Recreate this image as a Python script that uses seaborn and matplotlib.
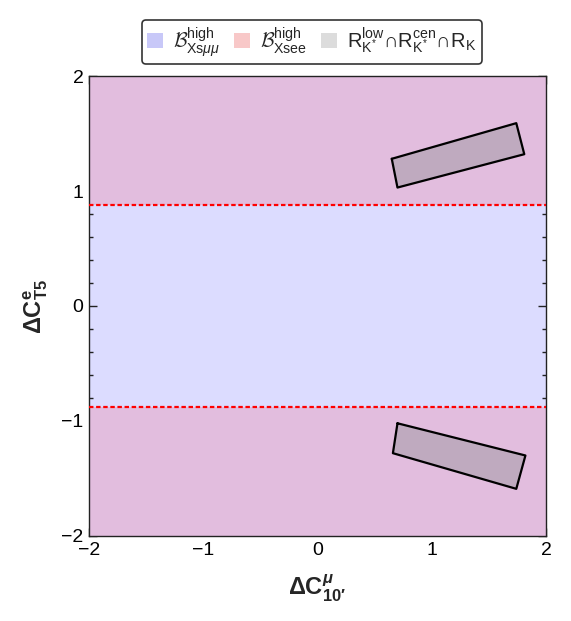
import numpy as np
import pandas as pd
import matplotlib
matplotlib.use("Agg")
import matplotlib.pyplot as plt
from matplotlib.patches import Patch
from matplotlib.ticker import MultipleLocator
import seaborn as sns

# ---- data ----
x_limits = [-2, 2]
y_limits = [-2, 2]
xsee_bound = 0.88          # |dC_T5^e| above which B_Xsee is allowed
upper_box_x = [0.65, 1.74, 1.81, 0.70]
upper_box_y = [1.28, 1.59, 1.32, 1.03]
lower_box_x = [0.70, 1.82, 1.74, 0.66]
lower_box_y = [-1.02, -1.30, -1.59, -1.28]
legend_labels = [r"$\mathcal{B}^{\mathrm{high}}_{\mathrm{Xs}\mu\mu}$",
                 r"$\mathcal{B}^{\mathrm{high}}_{\mathrm{Xsee}}$",
                 r"$\mathrm{R}^{\mathrm{low}}_{\mathrm{K^{*}}}{\cap}\mathrm{R}^{\mathrm{cen}}_{\mathrm{K^{*}}}{\cap}\mathrm{R}_{\mathrm{K}}$"]
xticks = [-2, -1, 0, 1, 2]
yticks = [-2, -1, 0, 1, 2]

sns.set_style("ticks")
plt.rcParams["font.family"] = ["Liberation Sans", "DejaVu Sans"]
plt.rcParams["mathtext.fontset"] = "custom"
plt.rcParams["mathtext.rm"] = "Liberation Sans"
plt.rcParams["mathtext.it"] = "Liberation Sans:italic"
plt.rcParams["mathtext.bf"] = "Liberation Sans:bold"
plt.rcParams["mathtext.bfit"] = "Liberation Sans:italic:bold"
plt.rcParams["mathtext.cal"] = "cmsy10"
plt.rcParams["mathtext.fallback"] = "stix"

fig = plt.figure(figsize=(5.71, 6.21), dpi=100)
ax = fig.add_axes([0.1559, 0.1369, 0.8003, 0.7407])

blue_c = "#dcdcff"
purple_c = "#e2bdde"
box_c = "#bfaabf"

# regions
ax.fill_between(x_limits, y_limits[0], y_limits[1], color=blue_c, lw=0, zorder=0)
ax.fill_between(x_limits, xsee_bound, y_limits[1], color=purple_c, lw=0, zorder=1)
ax.fill_between(x_limits, y_limits[0], -xsee_bound, color=purple_c, lw=0, zorder=1)

# dashed boundaries
for yb in (xsee_bound, -xsee_bound):
    df = pd.DataFrame({"x": x_limits, "y": [yb, yb]})
    sns.lineplot(data=df, x="x", y="y", ax=ax, color="red", lw=1.6,
                 linestyle=(0, (2.0, 1.2)), zorder=3)

# boxes
for bx, by in ((upper_box_x, upper_box_y), (lower_box_x, lower_box_y)):
    ax.fill(bx, by, color=box_c, lw=0, zorder=2)
    df = pd.DataFrame({"x": bx + bx[:1], "y": by + by[:1]})
    sns.lineplot(data=df, x="x", y="y", ax=ax, sort=False, estimator=None,
                 color="black", lw=1.6, zorder=4)

ax.set_xlim(x_limits)
ax.set_ylim(y_limits)
ax.set_xticks(xticks)
ax.set_yticks(yticks)
ax.xaxis.set_minor_locator(MultipleLocator(0.2))
ax.yaxis.set_minor_locator(MultipleLocator(0.2))
ax.tick_params(which="both", direction="in", top=True, right=True, labelsize=14,
               color="#222222", labelcolor="black")
ax.tick_params(which="major", length=6, width=1.0, pad=4)
ax.tick_params(which="minor", length=3, width=1.0)
for s in ax.spines.values():
    s.set_linewidth(1.0)
    s.set_color("#222222")

ax.set_xlabel(r"$\mathbf{\Delta C}^{\boldsymbol{\mu}}_{\mathbf{10\prime}}$", fontsize=17, labelpad=10)
ax.set_ylabel(r"$\mathbf{\Delta C}^{\mathbf{e}}_{\mathbf{T5}}$", fontsize=17, labelpad=8)

handles = [Patch(facecolor="#c8c8f8", edgecolor="none"),
           Patch(facecolor="#f8c8c8", edgecolor="none"),
           Patch(facecolor="#dcdcdc", edgecolor="none")]
leg = fig.legend(handles, legend_labels, loc="center", bbox_to_anchor=(0.546, 0.933),
                 ncol=3, fontsize=14.5, frameon=True, fancybox=True,
                 handlelength=0.8, handleheight=0.8, handletextpad=0.5,
                 columnspacing=0.7, borderpad=0.25)
leg.get_frame().set_edgecolor("black")
leg.get_frame().set_linewidth(1.2)

fig.savefig("out.png", dpi=100)
